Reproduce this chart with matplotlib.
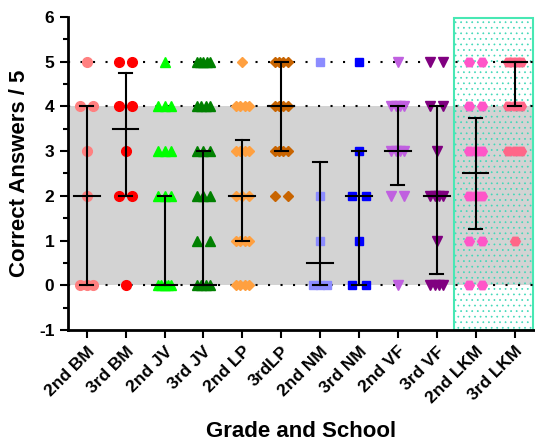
import matplotlib
matplotlib.use("Agg")
import matplotlib.pyplot as plt
import numpy as np
from matplotlib.patches import Rectangle

plt.rcParams["font.family"] = ["Liberation Sans", "DejaVu Sans"]
plt.rcParams["font.weight"] = "bold"
plt.rcParams["axes.unicode_minus"] = False
plt.rcParams["hatch.linewidth"] = 0.5

groups = ["2nd BM", "3rd BM", "2nd JV", "3rd JV", "2nd LP", "3rdLP",
          "2nd NM", "3rd NM", "2nd VF", "3rd VF", "2nd LKM", "3rd LKM"]

# individual scores (out of 5)
bm2 = [5, 4, 4, 3, 2, 0, 0, 0]
bm3 = [5, 5, 4, 4, 3, 2, 2, 0]
jv2 = [5, 4, 4, 4, 3, 3, 3, 2, 2, 2, 0, 0, 0, 0, 0]
jv3 = [5, 5, 5, 5, 5, 4, 4, 4, 4, 3, 3, 3, 2, 2, 2, 1, 1, 0, 0, 0, 0]
lp2 = [5, 4, 4, 4, 4, 3, 3, 3, 3, 2, 2, 2, 1, 1, 1, 1, 0, 0, 0, 0]
lp3 = [5, 5, 5, 5, 4, 4, 4, 4, 3, 3, 3, 3, 2, 2]
nm2 = [5, 2, 1, 0, 0, 0]
nm3 = [5, 3, 2, 2, 1, 0, 0]
vf2 = [5, 4, 4, 4, 4, 3, 3, 3, 3, 2, 2, 0]
vf3 = [5, 5, 4, 4, 3, 2, 2, 2, 2, 1, 0, 0, 0, 0]
lkm2 = [5, 5, 4, 4, 3, 3, 3, 2, 2, 2, 1, 1, 0, 0]
lkm3 = [5, 5, 5, 5, 4, 4, 4, 3, 3, 3, 1]
scores = [bm2, bm3, jv2, jv3, lp2, lp3, nm2, nm3, vf2, vf3, lkm2, lkm3]

# median and interquartile range drawn as bars
center = [2, 3.5, 0, 0, 2, 4, 0.5, 2, 3, 2, 2.5, 5]
low = [0, 2, 0, 0, 1, 3, 0, 0, 2.25, 0.25, 1.25, 4]
high = [4, 4.75, 2, 3, 3.25, 5, 2.75, 3, 4, 4, 3.75, 5]

colors = ["#ff8080", "#ff0000", "#00ff00", "#008000", "#ffa040", "#c86400",
          "#8c8cff", "#0000ff", "#c060e0", "#800080", "#ff55c8", "#ff6688"]
markers = ["o", "o", "^", "^", "D", "D", "s", "s", "v", "v", "H", "H"]
msizes = [7, 7, 7, 7, 5.5, 5.5, 6.3, 6.3, 7, 7, 7, 7]

fig = plt.figure(figsize=(5.35, 4.44), dpi=100)
ax = fig.add_axes([0.1265, 0.2568, 0.8716, 0.7049])
ax.set_xlim(-0.49, 11.5)
ax.set_ylim(-1, 6)

ax.axhspan(0, 4, color="#d3d3d3", lw=0, zorder=0)
ax.add_patch(Rectangle((9.45, -1), 2.03, 6.98, facecolor="none",
                       edgecolor="#40d8b8", hatch="...", lw=0,
                       zorder=1, clip_on=False))
ax.add_patch(Rectangle((9.45, -1), 2.03, 6.98, facecolor="none",
                       edgecolor="#48e8b4", lw=1.5, zorder=1, clip_on=False))
for yv in [0, 4, 5]:
    ax.axhline(yv, color="black", ls=(0, (1, 5)), lw=1.5, zorder=2)

for i, vals in enumerate(scores):
    vals = np.array(vals)
    for v in np.unique(vals):
        n = int(np.sum(vals == v))
        offs = np.linspace(-0.17, 0.17, n) if n > 1 else np.zeros(1)
        ax.plot(i + offs, np.full(n, v), ls="none", marker=markers[i],
                ms=msizes[i], color=colors[i], mec=colors[i], zorder=3)
    ax.plot([i, i], [low[i], high[i]], color="black", lw=1.5, zorder=4)
    ax.plot([i - 0.17, i + 0.17], [low[i], low[i]], color="black", lw=1.5, zorder=4)
    ax.plot([i - 0.17, i + 0.17], [high[i], high[i]], color="black", lw=1.5, zorder=4)
    ax.plot([i - 0.33, i + 0.33], [center[i], center[i]], color="black", lw=1.5, zorder=4)

ax.set_xticks(range(len(groups)))
ax.set_xticklabels(groups, rotation=45, ha="right", va="top",
                   rotation_mode="anchor", fontsize=12.5, fontweight="bold")
ax.set_yticks(range(-1, 7))
ax.set_yticks(np.arange(-1, 6.01, 0.5), minor=True)
ax.tick_params(axis="both", which="major", length=6, width=1.5, labelsize=12.5)
ax.tick_params(axis="y", which="minor", length=3.5, width=1.5)
ax.tick_params(axis="x", pad=4)

for s in ["top", "right"]:
    ax.spines[s].set_visible(False)
for s in ["left", "bottom"]:
    ax.spines[s].set_linewidth(2)

ax.set_ylabel("Correct Answers / 5", fontsize=16, fontweight="bold")
ax.yaxis.set_label_coords(-0.08, 0.5)
ax.set_xlabel("Grade and School", fontsize=16, fontweight="bold")
ax.xaxis.set_label_coords(0.5, -0.29)

fig.savefig("out.png", dpi=100)
